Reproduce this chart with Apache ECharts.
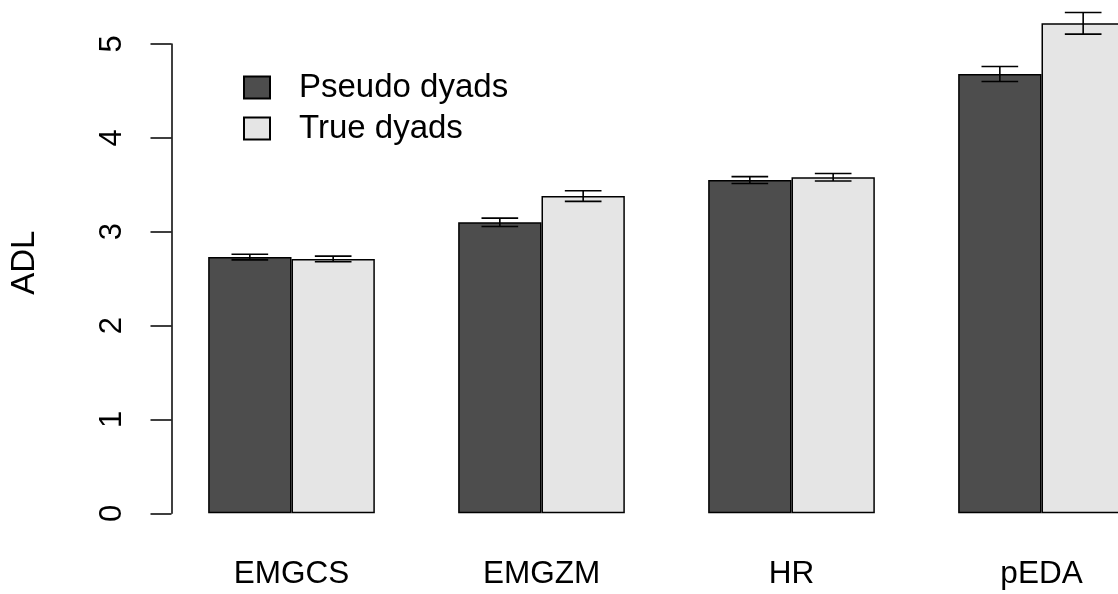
<!DOCTYPE html>
<html>
<head>
<meta charset="utf-8">
<script src="https://cdn.jsdelivr.net/npm/echarts@6/dist/echarts.min.js"></script>
<style>
html,body{margin:0;padding:0;background:#fff;overflow:hidden;width:1118px;height:594px;}
#c{width:1180px;height:594px;}
</style>
</head>
<body>
<div id="c"></div>
<script>
var categories = ['EMGCS', 'EMGZM', 'HR', 'pEDA'];
var seriesNames = ['Pseudo dyads', 'True dyads'];
var pseudoValues = [2.73, 3.10, 3.55, 4.68];
var trueValues = [2.71, 3.38, 3.58, 5.22];
var pseudoErrors = [0.03, 0.045, 0.037, 0.08];
var trueErrors = [0.03, 0.057, 0.04, 0.115];
var yTicks = [0, 1, 2, 3, 4, 5];

var FONT = 'Liberation Sans, Arial, Helvetica, sans-serif';

function errData(vals, errs) {
  return vals.map(function (v, i) { return [i, v, errs[i]]; });
}

function makeErrRender(side) {
  return function (params, api) {
    var idx = api.value(0), val = api.value(1), err = api.value(2);
    var c = api.coord([idx, val]);
    var band = api.size([1, 0])[0];
    var barW = band / 3;
    var x = c[0] + side * barW / 2;
    var yTop = api.coord([idx, val + err])[1];
    var yBot = api.coord([idx, val - err])[1];
    var hw = barW * 0.22;
    var st = { stroke: '#000', lineWidth: 1.6 };
    return {
      type: 'group',
      children: [
        { type: 'line', shape: { x1: x, y1: yTop, x2: x, y2: yBot }, style: st },
        { type: 'line', shape: { x1: x - hw, y1: yTop, x2: x + hw, y2: yTop }, style: st },
        { type: 'line', shape: { x1: x - hw, y1: yBot, x2: x + hw, y2: yBot }, style: st }
      ]
    };
  };
}

var chart = echarts.init(document.getElementById('c'), null, { renderer: 'canvas' });
chart.setOption({
  animation: false,
  backgroundColor: '#fff',
  textStyle: { fontFamily: FONT },
  grid: { left: 166.5, width: 1000, top: 44, height: 469.3, containLabel: false },
  legend: {
    data: seriesNames,
    orient: 'vertical',
    left: 238,
    top: 66,
    itemWidth: 26,
    itemHeight: 22,
    itemGap: 8,
    icon: 'rect',
    textStyle: { fontFamily: FONT, fontSize: 33, color: '#000', lineHeight: 33, padding: [0, 0, 0, 24] }
  },
  xAxis: {
    type: 'category',
    data: categories,
    axisLine: { show: false },
    axisTick: { show: false },
    axisLabel: { fontFamily: FONT, fontSize: 31.5, color: '#000', margin: 46, lineHeight: 31 },
    splitLine: { show: false }
  },
  yAxis: {
    type: 'value',
    min: 0,
    max: 5,
    interval: 1,
    offset: -5,
    name: 'ADL',
    nameLocation: 'middle',
    nameRotate: 90,
    nameGap: 130,
    nameTextStyle: { fontFamily: FONT, fontSize: 33, color: '#000', padding: [0, 0, 0, 32] },
    axisLine: { show: true, lineStyle: { color: '#000', width: 1.5 } },
    axisTick: { show: true, length: 21, lineStyle: { color: '#000', width: 1.5 } },
    axisLabel: {
      fontFamily: FONT, fontSize: 31, color: '#000', rotate: 90, margin: 44,
      formatter: function (v) { return yTicks.indexOf(v) >= 0 ? String(v) : ''; }
    },
    splitLine: { show: false }
  },
  series: [
    {
      name: seriesNames[0], type: 'bar', data: pseudoValues,
      barWidth: '33.333%', barGap: '0%', clip: false,
      itemStyle: { color: '#4d4d4d', borderColor: '#000', borderWidth: 1.5 }
    },
    {
      name: seriesNames[1], type: 'bar', data: trueValues,
      barWidth: '33.333%', barGap: '0%', clip: false,
      itemStyle: { color: '#e5e5e5', borderColor: '#000', borderWidth: 1.5 }
    },
    {
      name: 'err-pseudo', type: 'custom', data: errData(pseudoValues, pseudoErrors),
      encode: { x: 0, y: 1 }, renderItem: makeErrRender(-1), z: 10, silent: true
    },
    {
      name: 'err-true', type: 'custom', data: errData(trueValues, trueErrors),
      encode: { x: 0, y: 1 }, renderItem: makeErrRender(1), z: 10, silent: true
    }
  ]
});
</script>
</body>
</html>
